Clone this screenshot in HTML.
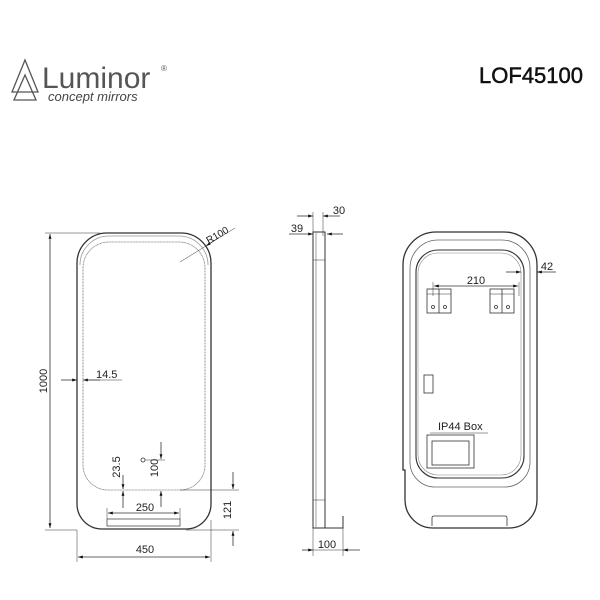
<!DOCTYPE html>
<html><head><meta charset="utf-8"><style>
body{margin:0;background:#fff;}
svg{display:block}
text{font-family:"Liberation Sans",sans-serif;fill:#222}
</style></head><body>
<svg width="600" height="600" viewBox="0 0 600 600" xmlns="http://www.w3.org/2000/svg">
<defs>
<marker id="a" viewBox="0 0 10 10" refX="10" refY="5" markerWidth="6" markerHeight="6" orient="auto-start-reverse"><path d="M0,2 L10,5 L0,8z" fill="#111"/></marker>
</defs>
<!-- header -->
<g fill="none" stroke="#555" stroke-width="1.3">
<path d="M25,60 L12,92 L38,92 Z"/><path d="M25,75 L14,100 L36,100 Z"/>
</g>
<text x="42" y="88" font-size="30" style="fill:#555">Luminor</text>
<text x="161" y="71" font-size="8" style="fill:#555">®</text>
<text x="48" y="101" font-size="13" font-style="italic" style="fill:#444">concept mirrors</text>
<text x="583" y="83" font-size="22" text-anchor="end" style="fill:#111;stroke:#111;stroke-width:0.5">LOF45100</text>

<g fill="none" stroke="#333" stroke-width="0.8">
<!-- front -->
<path d="M77,263 A30,30 0 0 1 107,233 L181,233 A30,30 0 0 1 211,263 L211,504 A25,25 0 0 1 186,529 L102,529 A25,25 0 0 1 77,504 Z" stroke-width="1.3"/>
<path d="M80,265 A29,29 0 0 1 109,236 L179,236 A29,29 0 0 1 208,265" stroke="#999"/>
<path d="M83,268 A26,26 0 0 1 109,242 L179,242 A26,26 0 0 1 205,268 L205,465 A25,25 0 0 1 180,490 L108,490 A25,25 0 0 1 83,465 Z" stroke="#777" stroke-dasharray="1 0.5"/>
<line x1="180" y1="490" x2="239" y2="490" stroke-width="0.5"/>
<line x1="186" y1="530" x2="239" y2="530" stroke-width="0.5"/>
<rect x="107" y="519" width="73" height="7" stroke-width="0.7"/>
<circle cx="143" cy="460" r="2"/>
<line x1="145" y1="460" x2="165" y2="460" stroke-width="0.5"/>
<!-- 1000 -->
<line x1="45" y1="233" x2="100" y2="233" stroke-width="0.5"/>
<line x1="45" y1="530" x2="77" y2="530" stroke-width="0.5"/>
<line x1="50" y1="234" x2="50" y2="528" marker-start="url(#a)" marker-end="url(#a)"/>
<!-- 14.5 -->
<line x1="61" y1="380" x2="77" y2="380" marker-end="url(#a)"/>
<line x1="100" y1="380" x2="83" y2="380" marker-end="url(#a)"/>
<line x1="83" y1="380" x2="122" y2="380" stroke-width="0.5"/>
<!-- R100 -->
<line x1="180" y1="262" x2="235" y2="228" stroke-width="0.5"/>
<line x1="215" y1="240" x2="206" y2="246" marker-end="url(#a)"/>
<!-- 23.5 -->
<line x1="123" y1="475" x2="123" y2="489" marker-end="url(#a)"/>
<line x1="123" y1="508" x2="123" y2="491" marker-end="url(#a)"/>
<!-- 100 -->
<line x1="161" y1="442" x2="161" y2="459" marker-end="url(#a)"/>
<line x1="161" y1="507" x2="161" y2="491" marker-end="url(#a)"/>
<!-- 250 -->
<line x1="107" y1="508" x2="107" y2="519" stroke-width="0.5"/>
<line x1="180" y1="508" x2="180" y2="519" stroke-width="0.5"/>
<line x1="108" y1="513" x2="179" y2="513" marker-start="url(#a)" marker-end="url(#a)"/>
<!-- 121 -->
<line x1="233" y1="472" x2="233" y2="489" marker-end="url(#a)"/>
<line x1="233" y1="546" x2="233" y2="531" marker-end="url(#a)"/>
<!-- 450 -->
<line x1="77" y1="530" x2="77" y2="562" stroke-width="0.5"/>
<line x1="211" y1="520" x2="211" y2="562" stroke-width="0.5"/>
<line x1="78" y1="557" x2="210" y2="557" marker-start="url(#a)" marker-end="url(#a)"/>

<!-- side -->
<rect x="313" y="232" width="12" height="296" stroke-width="1"/>
<line x1="316" y1="232" x2="316" y2="528" stroke="#888"/>
<line x1="313" y1="260" x2="325" y2="260" stroke-width="0.5"/>
<line x1="313" y1="500" x2="325" y2="500" stroke-width="0.5"/>
<path d="M325,528 L343,528 L343,516" stroke-width="1"/>
<line x1="297" y1="216" x2="313" y2="216" marker-end="url(#a)"/>
<line x1="340" y1="216" x2="323" y2="216" marker-end="url(#a)"/>
<line x1="313" y1="212" x2="313" y2="236" stroke-width="0.5"/>
<line x1="323" y1="212" x2="323" y2="236" stroke-width="0.5"/>
<line x1="289" y1="234" x2="313" y2="234" marker-end="url(#a)"/>
<line x1="343" y1="234" x2="327" y2="234" marker-end="url(#a)"/>
<line x1="313" y1="528" x2="313" y2="556" stroke-width="0.5"/>
<line x1="343" y1="528" x2="343" y2="556" stroke-width="0.5"/>
<line x1="302" y1="550" x2="313" y2="550" marker-end="url(#a)"/>
<line x1="360" y1="550" x2="343" y2="550" marker-end="url(#a)"/>
<line x1="313" y1="550" x2="343" y2="550" stroke-width="0.5"/>

<!-- back -->
<path d="M403,265 A33,33 0 0 1 436,232 L504,232 A33,33 0 0 1 537,265 L537,500 A28,28 0 0 1 509,528 L433,528 A28,28 0 0 1 405,500 L405,470 L403,470 Z" stroke-width="1.3"/>
<path d="M410,268 A28,28 0 0 1 438,240 L502,240 A28,28 0 0 1 530,268 L530,462 A25,25 0 0 1 505,487 L435,487 A25,25 0 0 1 410,462 Z" stroke="#666"/>
<path d="M416,272 A22,22 0 0 1 438,250 L502,250 A22,22 0 0 1 524,272 L524,456 A22,22 0 0 1 502,478 L438,478 A22,22 0 0 1 416,456 Z" stroke-width="1.1"/>
<path d="M418,274 A20,20 0 0 1 438,253 L502,253 A20,20 0 0 1 521,274 L521,455 A20,20 0 0 1 502,475 L438,475 A20,20 0 0 1 418,455 Z" stroke="#888" stroke-width="0.6"/>
<path d="M432,526 L432,518 Q432,516 434,516 L505,516 Q507,516 507,518 L507,526"/>
<rect x="427" y="289" width="24" height="24"/><line x1="439" y1="289" x2="439" y2="313"/>
<line x1="427" y1="294" x2="451" y2="294" stroke-width="0.5"/>
<circle cx="433" cy="307" r="1.5"/><circle cx="445" cy="307" r="1.5"/>
<rect x="490" y="289" width="24" height="24"/><line x1="502" y1="289" x2="502" y2="313"/>
<line x1="490" y1="294" x2="514" y2="294" stroke-width="0.5"/>
<circle cx="496" cy="307" r="1.5"/><circle cx="508" cy="307" r="1.5"/>
<line x1="433" y1="282" x2="433" y2="296" stroke-width="0.5"/>
<line x1="519" y1="282" x2="519" y2="296" stroke-width="0.5"/>
<line x1="434" y1="286" x2="518" y2="286" marker-start="url(#a)" marker-end="url(#a)"/>
<line x1="506" y1="272" x2="521" y2="272" marker-end="url(#a)"/>
<line x1="556" y1="272" x2="537" y2="272" marker-end="url(#a)"/>
<rect x="424" y="375" width="9" height="18"/>
<rect x="427" y="435" width="47" height="33"/>
<rect x="432" y="441" width="37" height="24"/>
<line x1="430" y1="433" x2="488" y2="433" stroke-width="0.5"/>
</g>
<text x="96" y="378" font-size="11">14.5</text>
<text x="0" y="0" font-size="11" transform="translate(47 381) rotate(-90)" text-anchor="middle">1000</text>
<text x="0" y="0" font-size="10" transform="translate(219 238) rotate(-30)" text-anchor="middle">R100</text>
<text x="0" y="0" font-size="11" transform="translate(120 467) rotate(-90)" text-anchor="middle">23.5</text>
<text x="0" y="0" font-size="11" transform="translate(158 468) rotate(-90)" text-anchor="middle">100</text>
<text x="145" y="511" font-size="11" text-anchor="middle">250</text>
<text x="0" y="0" font-size="11" transform="translate(231 510) rotate(-90)" text-anchor="middle">121</text>
<text x="145" y="553" font-size="11" text-anchor="middle">450</text>
<text x="339" y="214" font-size="11" text-anchor="middle">30</text>
<text x="297" y="232" font-size="11" text-anchor="middle">39</text>
<text x="327" y="548" font-size="11" text-anchor="middle">100</text>
<text x="476" y="284" font-size="11" text-anchor="middle">210</text>
<text x="547" y="270" font-size="11" text-anchor="middle">42</text>
<text x="438" y="430" font-size="11">IP44  Box</text>
</svg>
</body></html>
